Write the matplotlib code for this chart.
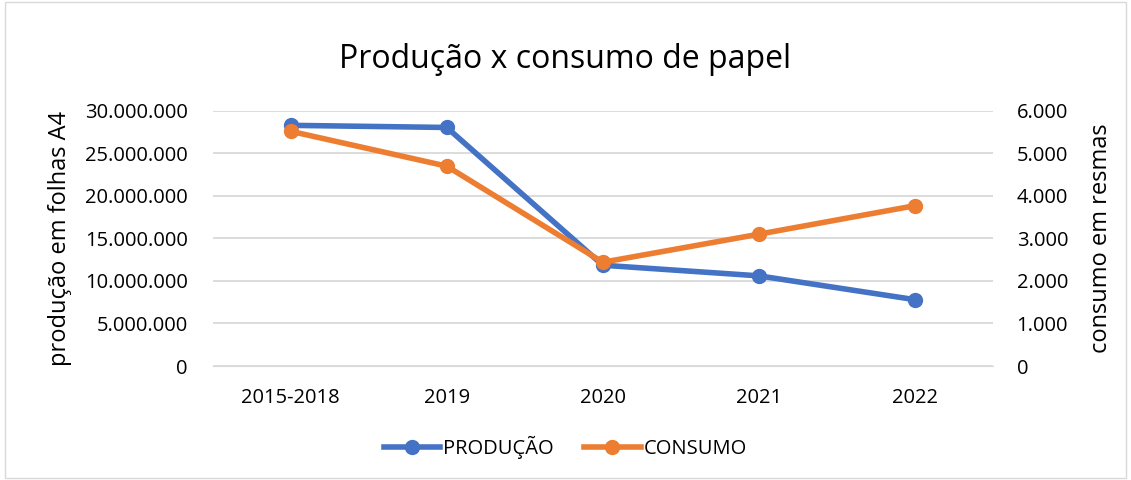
import matplotlib.pyplot as plt
import matplotlib.patches as patches
from matplotlib.ticker import FuncFormatter

categorias = ['2015-2018', '2019', '2020', '2021', '2022']
producao = [28300000, 28050000, 11850000, 10600000, 7800000]
consumo = [5520, 4700, 2440, 3100, 3770]

AZUL = '#4472C4'
LARANJA = '#ED7D31'

plt.rcParams['font.family'] = ['Open Sans', 'DejaVu Sans']


def milhar(v, pos):
    return f'{int(round(v)):,}'.replace(',', '.')


fig = plt.figure(figsize=(11.31, 4.8), dpi=100)
ax = fig.add_axes([0.188, 0.2375, 0.69, 0.5315])
ax2 = ax.twinx()

x = range(len(categorias))
l1, = ax.plot(x, producao, color=AZUL, linewidth=4, marker='o', markersize=10,
              label='PRODUÇÃO', zorder=3)
l2, = ax2.plot(x, consumo, color=LARANJA, linewidth=4, marker='o', markersize=10,
               label='CONSUMO', zorder=3)

ax.set_xlim(-0.5, len(categorias) - 0.5)
ax.set_ylim(0, 30000000)
ax.set_yticks(range(0, 30000001, 5000000))
ax2.set_ylim(0, 6000)
ax2.set_yticks(range(0, 6001, 1000))
ax.yaxis.set_major_formatter(FuncFormatter(milhar))
ax2.yaxis.set_major_formatter(FuncFormatter(milhar))
ax.set_xticks(list(x))
ax.set_xticklabels(categorias)

ax.grid(axis='y', color='#D9D9D9', linewidth=1.3)
ax.set_axisbelow(True)
for a in (ax, ax2):
    for s in a.spines.values():
        s.set_visible(False)
    a.tick_params(length=0, labelsize=14.5, colors='#000000')
ax.spines['bottom'].set_visible(True)
ax.spines['bottom'].set_color('#D9D9D9')
ax.tick_params(axis='x', pad=16)
ax.tick_params(axis='y', pad=18)
ax2.tick_params(axis='y', pad=17)

ax.set_ylabel('produção em folhas A4', fontsize=17, labelpad=9)
ax2.set_ylabel('consumo em resmas', fontsize=17, labelpad=15)

fig.suptitle('Produção x consumo de papel', fontsize=23, y=0.875, va='center')

fig.legend(handles=[l1, l2], loc='center', bbox_to_anchor=(0.5, 0.067), ncol=2,
           frameon=False, fontsize=14.5, handlelength=2.8, columnspacing=1.5,
           handletextpad=0.15)

fig.patches.append(patches.Rectangle((0.004, 0.004), 0.992, 0.992,
                                     transform=fig.transFigure, fill=False,
                                     edgecolor='#D9D9D9', linewidth=1))

fig.savefig('out.png', dpi=100)
